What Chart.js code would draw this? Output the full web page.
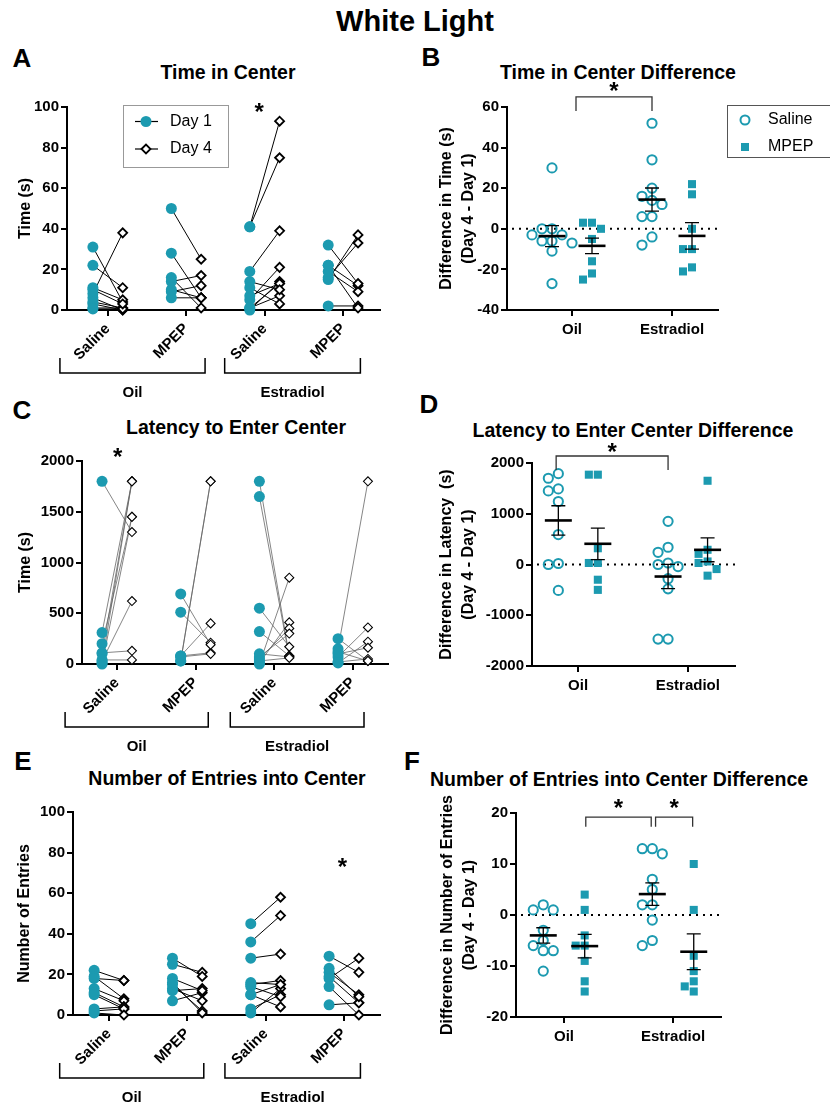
<!DOCTYPE html>
<html>
<head>
<meta charset="utf-8">
<script src="https://cdn.jsdelivr.net/npm/chart.js@4.4.1/dist/chart.umd.min.js"></script>
<style>
body { margin: 0; background: #fff; width: 830px; height: 1109px; position: relative; overflow: hidden; font-family: "Liberation Sans", Arial, sans-serif; }
.t { position: absolute; font-weight: bold; white-space: nowrap; transform: translate(-50%, -50%); color: #000; line-height: 1; }
.lt { font-size: 26px; }
.pt { font-size: 19.5px; }
canvas { position: absolute; }
</style>
</head>
<body>
<div class="t" style="left:415px;top:21px;font-size:29px">White Light</div>

<div class="t lt" style="left:22px;top:58px">A</div>
<div class="t pt" style="left:228px;top:73px">Time in Center</div>
<div class="t lt" style="left:431px;top:57px">B</div>
<div class="t pt" style="left:618px;top:73px">Time in Center Difference</div>

<div class="t lt" style="left:22px;top:410px">C</div>
<div class="t pt" style="left:236px;top:428px">Latency to Enter Center</div>
<div class="t lt" style="left:429px;top:404px">D</div>
<div class="t pt" style="left:633px;top:431px">Latency to Enter Center Difference</div>

<div class="t lt" style="left:23px;top:761px">E</div>
<div class="t pt" style="left:227px;top:779px">Number of Entries into Center</div>
<div class="t lt" style="left:412px;top:761px">F</div>
<div class="t pt" style="left:619px;top:780px">Number of Entries into Center Difference</div>

<canvas id="cA" width="400" height="310" style="left:0;top:90px"></canvas>
<canvas id="cB" width="415" height="275" style="left:415px;top:75px"></canvas>
<canvas id="cC" width="400" height="320" style="left:0;top:440px"></canvas>
<canvas id="cD" width="415" height="265" style="left:415px;top:440px"></canvas>
<canvas id="cE" width="400" height="319" style="left:0;top:790px"></canvas>
<canvas id="cF" width="415" height="275" style="left:415px;top:780px"></canvas>

<script>
var FONT = '"Liberation Sans", Arial, sans-serif';
Chart.defaults.font.family = FONT;
Chart.defaults.color = '#000';
var TEAL = '#1c9ab0';

var groupLabels = ['Saline', 'MPEP', 'Saline', 'MPEP'];
var hormoneLabels = ['Oil', 'Estradiol'];
var dayLabels = ['Day 1', 'Day 4'];
var drugLabels = ['Saline', 'MPEP'];

// A: time in center (s), paired by animal; groups Oil-Saline, Oil-MPEP, E2-Saline, E2-MPEP
var timeDay1 = [
	[31, 22, 11, 8, 6, 3, 4, 1, 0.5, 10],
	[14, 9, 6, 10, 16, 28, 50],
	[41, 41, 19, 5, 0, 1, 1, 7, 14, 11],
	[15, 16, 2, 22, 19, 32, 22]
];
var timeDay4 = [
	[4, 11, 5, 38, 0, 0, 1, 1, 0.5, 3],
	[17, 12, 6, 6, 1, 6, 25],
	[93, 75, 39, 21, 14, 13, 7, 13, 10, 3],
	[37, 33, 2, 12, 9, 13, 1]
];

// B: Day 4 - Day 1 time, per hormone [Oil, Estradiol]
var timeDiffSaline = [[30, 0, 0, -3, -3, -6, -6, -7, -11, -27], [52, 34, 20, 16, 14, 12, 6, 6, -4, -8]];
var timeDiffMPEP = [[3, 3, 0, -5, -16, -22, -25], [22, 17, 0, -10, -10, -19, -21]];
var timeDiffMean = [-3.6, -8.4, 14.4, -3.5];
var timeDiffSem = [5.2, 3.8, 5.7, 6.5];

// C: latency to enter center (s)
var latDay1 = [
	[1800, 10, 100, 310, 0, 200, 30, 110, 40],
	[30, 30, 80, 80, 70, 510, 690],
	[1800, 1650, 550, 320, 0, 10, 50, 70, 100, 30],
	[150, 70, 10, 100, 20, 120, 250]
];
var latDay4 = [
	[1300, 1800, 1800, 1800, 1450, 1450, 620, 130, 40],
	[1800, 1800, 400, 110, 100, 210, 190],
	[80, 70, 170, 80, 850, 410, 350, 300, 70, 60],
	[1800, 360, 220, 160, 50, 30, 30]
];

// D: Day 4 - Day 1 latency
var latDiffSaline = [[1790, 1700, 1490, 1450, 1240, 590, 20, 0, -510], [850, 340, 240, 30, 0, -40, -280, -480, -1470, -1470]];
var latDiffMPEP = [[1770, 1770, 320, 30, 30, -300, -500], [1650, 290, 210, 60, 30, -90, -220]];
var latDiffMean = [868, 408, -237, 289];
var latDiffSem = [290, 310, 240, 235];

// E: number of entries
var entDay1 = [
	[22, 19, 18, 13, 11, 10, 3, 2, 1],
	[7, 12, 25, 18, 13, 28, 15, 16],
	[45, 36, 1, 3, 10, 28, 15, 16, 14, 10],
	[18, 5, 29, 21, 19, 23, 14]
];
var entDay4 = [
	[17, 8, 17, 7, 4, 3, 4, 3, 0],
	[11, 13, 21, 12, 7, 19, 2, 1],
	[58, 49, 13, 10, 15, 30, 17, 15, 9, 4],
	[28, 6, 21, 10, 6, 9, 0]
];

// F: Day 4 - Day 1 entries
var entDiffSaline = [[1, 1, 2, -3, -5, -6, -7, -7, -11], [13, 13, 12, 7, 5, 2, 2, -1, -5, -6]];
var entDiffMPEP = [[4, 1, -4, -6, -6, -9, -13, -15], [10, 1, -8, -11, -13, -15, -14]];
var entDiffMean = [-4, -6.1, 4.1, -7.2];
var entDiffSem = [1.5, 2.3, 2.2, 3.5];


function axisLine() {
	return { drawOnChartArea: false, tickLength: 6, color: '#000', lineWidth: 2 };
}

function plainTick(v) { return String(v); }

function drawStar(ctx, x, y) {
	ctx.font = 'bold 24px ' + FONT;
	ctx.textAlign = 'center';
	ctx.textBaseline = 'alphabetic';
	ctx.fillText('*', x, y + 11);
}

function pairedExtras(P) {
	return {
		id: 'pairedExtras',
		afterDraw: function (chart) {
			var ctx = chart.ctx, xs = chart.scales.x, ys = chart.scales.y, b = chart.chartArea.bottom;
			ctx.save();
			ctx.strokeStyle = '#000';
			ctx.fillStyle = '#000';
			ctx.lineWidth = 1.5;
			P.brackets.forEach(function (br, i) {
				var x1 = xs.getPixelForValue(br[0]), x2 = xs.getPixelForValue(br[1]), yb = b + 63;
				ctx.beginPath();
				ctx.moveTo(x1, yb - 15); ctx.lineTo(x1, yb); ctx.lineTo(x2, yb); ctx.lineTo(x2, yb - 15);
				ctx.stroke();
				ctx.font = 'bold 15px ' + FONT;
				ctx.textAlign = 'center';
				ctx.textBaseline = 'middle';
				ctx.fillText(hormoneLabels[i], (x1 + x2) / 2, yb + 20);
			});
			drawStar(ctx, xs.getPixelForValue(P.star[0]), ys.getPixelForValue(P.star[1]));
			if (P.legend) {
				// Day 1 / Day 4 legend box
				ctx.strokeStyle = '#999';
				ctx.lineWidth = 1;
				ctx.strokeRect(123.5, 15.5, 105, 62);
				[31.5, 59].forEach(function (yy, i) {
					ctx.strokeStyle = '#000';
					ctx.lineWidth = 1.2;
					ctx.beginPath(); ctx.moveTo(135, yy); ctx.lineTo(158, yy); ctx.stroke();
					if (i === 0) {
						ctx.fillStyle = TEAL;
						ctx.beginPath(); ctx.arc(146, yy, 5.5, 0, Math.PI * 2); ctx.fill();
					} else {
						ctx.fillStyle = '#fff';
						ctx.lineWidth = 1.8;
						ctx.beginPath();
						ctx.moveTo(141.5, yy); ctx.lineTo(146, yy - 4.5); ctx.lineTo(150.5, yy); ctx.lineTo(146, yy + 4.5);
						ctx.closePath(); ctx.fill(); ctx.stroke();
					}
					ctx.fillStyle = '#000';
					ctx.font = '16px ' + FONT;
					ctx.textAlign = 'left';
					ctx.textBaseline = 'middle';
					ctx.fillText(dayLabels[i], 170, yy);
				});
			}
			ctx.restore();
		}
	};
}

function pairedChart(id, day1, day4, P) {
	var pts1 = [], pts4 = [], segs = [];
	day1.forEach(function (grp, g) {
		grp.forEach(function (v, i) {
			var a = { x: g - 0.19, y: v }, b = { x: g + 0.19, y: day4[g][i] };
			pts1.push(a);
			pts4.push(b);
			segs.push({ x: a.x, y: a.y }, { x: b.x, y: b.y }, { x: b.x, y: null });
		});
	});
	return new Chart(document.getElementById(id), {
		type: 'scatter',
		data: {
			datasets: [
				{ data: pts4, pointStyle: 'rectRot', pointRadius: 4.5, backgroundColor: '#fff', borderColor: '#000', borderWidth: P.dw, clip: false, order: 1 },
				{ data: pts1, pointStyle: 'circle', pointRadius: 5.5, backgroundColor: TEAL, borderColor: TEAL, borderWidth: 0, clip: false, order: 2 },
				{ data: segs, showLine: true, pointRadius: 0, borderColor: P.lineColor, borderWidth: P.lw, order: 3 }
			]
		},
		options: {
			responsive: false,
			animation: false,
			events: [],
			layout: { padding: { top: P.top, right: P.right, left: 0, bottom: 0 } },
			plugins: { legend: { display: false }, tooltip: { enabled: false } },
			scales: {
				x: {
					type: 'linear', min: P.xmin, max: P.xmax,
					afterBuildTicks: function (s) { s.ticks = [0, 1, 2, 3].map(function (v) { return { value: v }; }); },
					afterFit: function (s) { s.height = P.xh; },
					ticks: {
						callback: function (v) { return groupLabels[v]; },
						minRotation: 45, maxRotation: 45, autoSkip: false, padding: 4,
						font: { size: 15, weight: 'bold' }
					},
					grid: axisLine(),
					border: { color: '#000', width: 2 }
				},
				y: {
					min: P.ymin, max: P.ymax,
					afterFit: function (s) { s.width = P.yw; },
					ticks: { stepSize: P.step, padding: 2, callback: plainTick, font: { size: 15, weight: 'bold' } },
					grid: axisLine(),
					border: { color: '#000', width: 2 },
					title: { display: true, text: P.ytitle, font: { size: 16, weight: 'bold', lineHeight: 1.2 }, padding: { top: P.tp, bottom: 0 } }
				}
			}
		},
		plugins: [pairedExtras(P)]
	});
}

// spread points of one group sideways so markers do not overlap
function swarm(vals, center, pxX, pxY, step) {
	var placed = [], out = [];
	var idx = vals.map(function (v, i) { return i; }).sort(function (a, b) { return vals[b] - vals[a]; });
	idx.forEach(function (i) {
		var y = vals[i] * pxY;
		for (var k = 0; k < 14; k++) {
			var off = (k === 0 ? 0 : (k % 2 ? -Math.ceil(k / 2) : Math.ceil(k / 2))) * step;
			var ok = placed.every(function (p) { return Math.hypot(p.x - off, p.y - y) >= step * 0.95; });
			if (ok) {
				placed.push({ x: off, y: y });
				out[i] = { x: center + off / pxX, y: vals[i] };
				break;
			}
		}
	});
	return out;
}

function diffExtras(P) {
	return {
		id: 'diffExtras',
		beforeDatasetsDraw: function (chart) {
			var ctx = chart.ctx, ys = chart.scales.y, a = chart.chartArea;
			var y0 = ys.getPixelForValue(0);
			ctx.save();
			ctx.strokeStyle = '#000';
			ctx.lineWidth = 2;
			ctx.setLineDash([2, 5]);
			ctx.beginPath(); ctx.moveTo(a.left + 5, y0); ctx.lineTo(a.right, y0); ctx.stroke();
			ctx.restore();
		},
		afterDatasetsDraw: function (chart) {
			var ctx = chart.ctx, xs = chart.scales.x, ys = chart.scales.y;
			ctx.save();
			ctx.strokeStyle = '#000';
			P.mean.forEach(function (m, g) {
				var h = Math.floor(g / 2), side = g % 2 ? 1 : -1;
				var x = xs.getPixelForValue(h + 1 + side * P.off);
				var ym = ys.getPixelForValue(m), yt = ys.getPixelForValue(m + P.sem[g]), yb = ys.getPixelForValue(m - P.sem[g]);
				ctx.lineWidth = 1.3;
				ctx.beginPath();
				ctx.moveTo(x, yt); ctx.lineTo(x, yb);
				ctx.moveTo(x - 7, yt); ctx.lineTo(x + 7, yt);
				ctx.moveTo(x - 7, yb); ctx.lineTo(x + 7, yb);
				ctx.stroke();
				ctx.lineWidth = 2.6;
				ctx.beginPath(); ctx.moveTo(x - 13.5, ym); ctx.lineTo(x + 13.5, ym); ctx.stroke();
			});
			ctx.restore();
		},
		afterDraw: function (chart) {
			var ctx = chart.ctx, xs = chart.scales.x, ys = chart.scales.y;
			ctx.save();
			ctx.strokeStyle = '#333';
			ctx.fillStyle = '#000';
			ctx.lineWidth = 1.3;
			P.sig.forEach(function (s) {
				var x1 = xs.getPixelForValue(s.from), x2 = xs.getPixelForValue(s.to);
				var yt = ys.getPixelForValue(s.top), yl = ys.getPixelForValue(s.leg);
				ctx.beginPath();
				ctx.moveTo(x1, yl); ctx.lineTo(x1, yt); ctx.lineTo(x2, yt); ctx.lineTo(x2, yl);
				ctx.stroke();
				drawStar(ctx, (x1 + x2) / 2, ys.getPixelForValue(s.star));
			});
			if (P.legend) {
				var ly = P.legend;
				ctx.strokeStyle = '#555';
				ctx.lineWidth = 1;
				ctx.strokeRect(312.5, ly + 0.5, 110, 52);
				ctx.strokeStyle = TEAL;
				ctx.lineWidth = 2;
				ctx.beginPath(); ctx.arc(330, ly + 15, 4.5, 0, Math.PI * 2); ctx.stroke();
				ctx.fillStyle = TEAL;
				ctx.fillRect(326, ly + 38, 8, 8);
				ctx.fillStyle = '#000';
				ctx.font = '16px ' + FONT;
				ctx.textAlign = 'left';
				ctx.textBaseline = 'middle';
				ctx.fillText(drugLabels[0], 353, ly + 15);
				ctx.fillText(drugLabels[1], 353, ly + 42);
			}
			ctx.restore();
		}
	};
}

function diffChart(id, saline, mpep, P) {
	var pxX = (P.w - P.yw - P.right) / (P.xmax - P.xmin);
	var pxY = 203 / (P.ymax - P.ymin);
	var sPts = [], mPts = [];
	[0, 1].forEach(function (h) {
		sPts = sPts.concat(swarm(saline[h], h + 1 - P.off, pxX, pxY, 10));
		mPts = mPts.concat(swarm(mpep[h], h + 1 + P.off, pxX, pxY, 9));
	});
	return new Chart(document.getElementById(id), {
		type: 'scatter',
		data: {
			datasets: [
				{ data: sPts, pointStyle: 'circle', pointRadius: 4.6, backgroundColor: 'rgba(0,0,0,0)', borderColor: TEAL, borderWidth: 2, clip: false },
				{ data: mPts, pointStyle: 'rect', pointRadius: 5.7, backgroundColor: TEAL, borderColor: TEAL, borderWidth: 0, clip: false }
			]
		},
		options: {
			responsive: false,
			animation: false,
			events: [],
			layout: { padding: { top: P.top, right: P.right, left: 0, bottom: 0 } },
			plugins: { legend: { display: false }, tooltip: { enabled: false } },
			scales: {
				x: {
					type: 'linear', min: P.xmin, max: P.xmax,
					afterBuildTicks: function (s) { s.ticks = [{ value: 1 }, { value: 2 }]; },
					afterFit: function (s) { s.height = P.xh; },
					ticks: {
						callback: function (v) { return hormoneLabels[v - 1]; },
						minRotation: 0, maxRotation: 0, autoSkip: false, padding: 5,
						font: { size: 15, weight: 'bold' }
					},
					grid: axisLine(),
					border: { color: '#000', width: 2 }
				},
				y: {
					min: P.ymin, max: P.ymax,
					afterFit: function (s) { s.width = P.yw; },
					ticks: { stepSize: P.step, padding: 2, callback: plainTick, font: { size: 15, weight: 'bold' } },
					grid: axisLine(),
					border: { color: '#000', width: 2 },
					title: { display: true, text: P.ytitle, font: { size: 16, weight: 'bold', lineHeight: 1.35 }, padding: { top: P.tp, bottom: 0 } }
				}
			}
		},
		plugins: [diffExtras(P)]
	});
}

pairedChart('cA', timeDay1, timeDay4, {
	top: 17, right: 20, yw: 67, xh: 90, xmin: -0.52, xmax: 3.47,
	ymin: 0, ymax: 100, step: 20, ytitle: 'Time (s)', tp: 15.5,
	lineColor: '#000', lw: 1, dw: 1.8,
	brackets: [[-0.61, 1.24], [1.49, 3.22]], star: [1.93, 99], legend: true
});
pairedChart('cC', latDay1, latDay4, {
	top: 21, right: 12, yw: 82, xh: 96, xmin: -0.445, xmax: 3.445,
	ymin: 0, ymax: 2000, step: 500, ytitle: 'Time (s)', tp: 15.5,
	lineColor: '#666', lw: 0.8, dw: 1.1,
	brackets: [[-0.66, 1.16], [1.44, 3.14]], star: [0.01, 2070], legend: false
});
pairedChart('cE', entDay1, entDay4, {
	top: 22, right: 20, yw: 73, xh: 94, xmin: -0.46, xmax: 3.46,
	ymin: 0, ymax: 100, step: 20, ytitle: 'Number of Entries', tp: 14.5,
	lineColor: '#000', lw: 1, dw: 1.8,
	brackets: [[-0.63, 1.21], [1.48, 3.21]], star: [2.98, 74.5], legend: false
});

diffChart('cB', timeDiffSaline, timeDiffMPEP, {
	w: 415, top: 32, right: 112, yw: 92, xh: 40, xmin: 0.35, xmax: 2.46, off: 0.2,
	ymin: -40, ymax: 60, step: 20, ytitle: ['Difference in Time (s)', '(Day 4 - Day 1)'], tp: 21,
	mean: timeDiffMean, sem: timeDiffSem,
	sig: [{ from: 1.04, to: 1.8, top: 65, leg: 58, star: 69.5 }], legend: 30
});
diffChart('cD', latDiffSaline, latDiffMPEP, {
	w: 415, top: 23, right: 95, yw: 117, xh: 39, xmin: 0.58, xmax: 2.43, off: 0.18,
	ymin: -2000, ymax: 2000, step: 1000, ytitle: ['Difference in Latency  (s)', '(Day 4 - Day 1)'], tp: 21,
	mean: latDiffMean, sem: latDiffSem,
	sig: [{ from: 0.8, to: 1.82, top: 2138, leg: 1862, star: 2276 }], legend: 0
});
diffChart('cF', entDiffSaline, entDiffMPEP, {
	w: 415, top: 33, right: 109, yw: 101, xh: 38, xmin: 0.56, xmax: 2.44, off: 0.19,
	ymin: -20, ymax: 20, step: 10, ytitle: ['Difference in Number of Entries', '(Day 4 - Day 1)'], tp: 22,
	mean: entDiffMean, sem: entDiffSem,
	sig: [{ from: 1.2, to: 1.8, top: 19.2, leg: 17.3, star: 21.6 }, { from: 1.84, to: 2.18, top: 19.2, leg: 17.3, star: 21.6 }], legend: 0
});
</script>
</body>
</html>
